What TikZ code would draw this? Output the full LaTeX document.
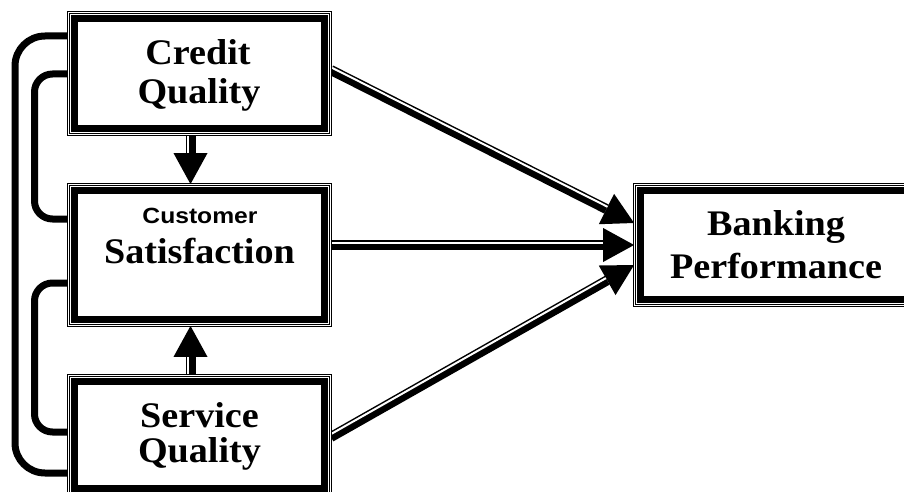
\documentclass[tikz,border=0pt]{standalone}
\usepackage{fontspec}
\setmainfont{Liberation Serif}[FakeStretch=1.06]
\newfontfamily\custfont{Liberation Sans}[FakeStretch=1.12]
\usetikzlibrary{arrows.meta,calc,backgrounds}
\tikzset{
  box/.style 2 args={draw, double, double distance=1.6pt, line width=0.8pt,
    fill=white, inner sep=0pt, minimum width=#1, minimum height=#2},
  thickframe/.style={line width=7pt},
  lbl/.style={anchor=base, inner sep=0pt, font=\fontsize{36}{42}\selectfont\bfseries},
  custlbl/.style={anchor=base, inner sep=0pt, font=\fontsize{22}{26}\selectfont\custfont\bfseries},
  loopline/.style={line width=7pt, rounded corners=#1},
  shaft/.style={line width=10pt, -{Triangle[length=31pt,width=34pt,line width=0pt]}},
  stripe/.style={draw=white, line width=2pt, shorten >=31pt},
}
\newcommand{\dbarrow}[4]{%
  \draw[shaft] (#1) -- (#2);
  \draw[stripe] ($(#1)!2.5pt!#3:(#2)$) -- ($(#2)!2.5pt!#4:(#1)$);}
\begin{document}
\begin{tikzpicture}[x=1pt,y=-1pt]
\useasboundingbox (0,0) rectangle (904,492);
\clip (0,0) rectangle (904,492);
% boxes
\node[box={262pt}{122pt}] (cq) at (199.5,73.5) {};
\node[box={262pt}{141pt}] (cs) at (199.5,255) {};
\node[box={262pt}{119pt}] (sq) at (199.5,435) {};
\node[box={283pt}{121pt}] (bp) at (776,245) {};
\foreach \n in {cq,cs,sq,bp}
  \draw[thickframe] ([shift={(6pt,-6pt)}]\n.north west) rectangle ([shift={(-6pt,6pt)}]\n.south east);
% texts
\node[lbl] (cq1) at (198,65) {Credit};
\node[lbl] (cq2) at (199,103) {Quality};
\node[custlbl] (cs1) at (200,223) {Customer};
\node[lbl] (cs2) at (199.5,263) {Satisfaction};
\node[lbl] (sq1) at (199.5,427) {Service};
\node[lbl] (sq2) at (199.5,462) {Quality};
\node[lbl] (bp1) at (776,235) {Banking};
\node[lbl] (bp2) at (776,278) {Performance};
% connector end points
\coordinate (a1s) at ([xshift=-9pt]cq.south);
\coordinate (a1e) at ([xshift=-9pt]cs.north);
\coordinate (a2s) at ([xshift=-9pt]sq.north);
\coordinate (a2e) at ([xshift=-9pt]cs.south);
\coordinate (a3s) at ([yshift=3.5pt]cq.east);
\coordinate (a3e) at ([yshift=22pt]bp.west);
\coordinate (a4s) at ([yshift=10pt]cs.east);
\coordinate (a4e) at (bp.west);
\coordinate (a5s) at ([yshift=-2pt]sq.east);
\coordinate (a5e) at ([yshift=-20pt]bp.west);
\begin{pgfonlayer}{background}
  % loops
  \draw[loopline=30pt] ([yshift=37.5pt]cq.west) -| (15,250) |- ([yshift=-38pt]sq.west);
  \draw[loopline=18pt] ([yshift=-0.5pt]cq.west) -| (34.5,150) |- ([yshift=36pt]cs.west);
  \draw[loopline=18pt] ([yshift=-28pt]cs.west) -| (34.5,350) |- ([yshift=3pt]sq.west);
  % arrows
  \dbarrow{a1s}{a1e}{-90}{90}
  \dbarrow{a2s}{a2e}{90}{-90}
  \dbarrow{a3s}{a3e}{90}{-90}
  \dbarrow{a4s}{a4e}{90}{-90}
  \dbarrow{a5s}{a5e}{90}{-90}
\end{pgfonlayer}
\end{tikzpicture}
\end{document}
